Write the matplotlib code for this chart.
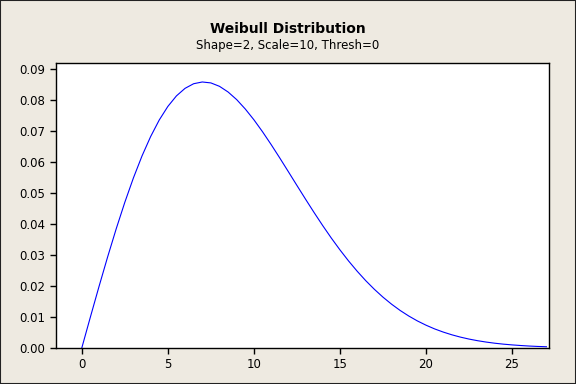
import matplotlib.pyplot as plt
from matplotlib.patches import Rectangle

# Density values (x step 0.5)
x_values = [0, 0.5, 1, 1.5, 2, 2.5, 3, 3.5, 4, 4.5, 5, 5.5, 6, 6.5, 7, 7.5, 8, 8.5,
            9, 9.5, 10, 10.5, 11, 11.5, 12, 12.5, 13, 13.5, 14, 14.5, 15, 15.5, 16,
            16.5, 17, 17.5, 18, 18.5, 19, 19.5, 20, 20.5, 21, 21.5, 22, 22.5, 23,
            23.5, 24, 24.5, 25, 25.5, 26, 26.5, 27]
density = [0.0, 0.00998, 0.01980, 0.02933, 0.03843, 0.04697, 0.05484, 0.06193,
           0.06817, 0.07351, 0.07788, 0.08129, 0.08372, 0.08521, 0.08577, 0.08547,
           0.08437, 0.08254, 0.08008, 0.07705, 0.07358, 0.06973, 0.06560, 0.06129,
           0.05686, 0.05240, 0.04798, 0.04364, 0.03944, 0.03542, 0.03162, 0.02805,
           0.02474, 0.02168, 0.01890, 0.01637, 0.01410, 0.01207, 0.01028, 0.00870,
           0.00733, 0.00613, 0.00511, 0.00423, 0.00348, 0.00285, 0.00232, 0.00188,
           0.00151, 0.00121, 0.00097, 0.00077, 0.00060, 0.00047, 0.00037]
x_ticks = [0, 5, 10, 15, 20, 25]
y_ticks = [0.00, 0.01, 0.02, 0.03, 0.04, 0.05, 0.06, 0.07, 0.08, 0.09]

bg = '#EEEAE1'
fig = plt.figure(figsize=(5.76, 3.84), dpi=100, facecolor=bg)
fig.patches.append(Rectangle((0, 0), 1, 1, transform=fig.transFigure,
                             fill=False, edgecolor='#222222', linewidth=1.5))

ax = fig.add_axes([0.0972, 0.094, 0.856, 0.742])
ax.plot(x_values, density, color='#0000FF', linewidth=0.8)

ax.set_xlim(-1.5, 27.15)
ax.set_ylim(0, 0.0919)
ax.set_xticks(x_ticks)
ax.set_yticks(y_ticks)
ax.set_yticklabels([f'{v:.2f}' for v in y_ticks])
ax.tick_params(direction='out', length=4, width=1, labelsize=8.5, top=False, right=False)
for s in ax.spines.values():
    s.set_linewidth(1)

fig.text(0.5, 0.925, 'Weibull Distribution', ha='center', va='center',
         fontsize=10, fontweight='bold')
fig.text(0.5, 0.882, 'Shape=2, Scale=10, Thresh=0', ha='center', va='center',
         fontsize=8.5)

plt.savefig('out.png', dpi=100, facecolor=bg)
